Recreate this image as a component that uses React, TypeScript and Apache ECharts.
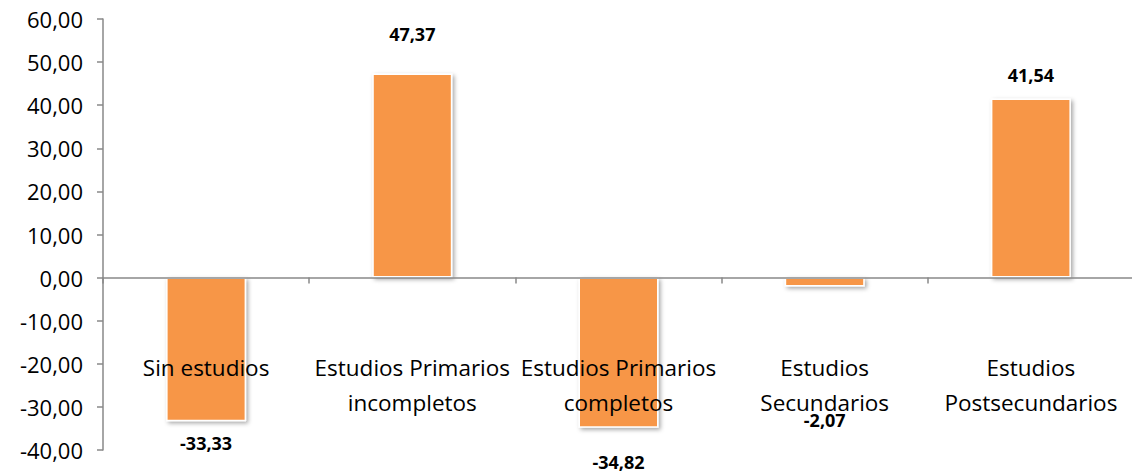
import React, { useEffect, useRef } from "react";
import * as echarts from "echarts";

const categories = [
  "Sin estudios",
  "Estudios Primarios\nincompletos",
  "Estudios Primarios\ncompletos",
  "Estudios\nSecundarios",
  "Estudios\nPostsecundarios",
];
const values = [-33.33, 47.37, -34.82, -2.07, 41.54];
const labelDistances = [13, 30, 25, 124, 15];

const fmt = (v: number) => v.toFixed(2).replace(".", ",");

export default function App() {
  const ref = useRef<HTMLDivElement>(null);
  useEffect(() => {
    if (!ref.current) return;
    const chart = echarts.init(ref.current, null, { renderer: "svg" });
    const font = "'Open Sans', 'Noto Sans', sans-serif";
    chart.setOption({
      animation: false,
      grid: {
        left: 103,
        right: -2,
        top: 19,
        bottom: 24,
        containLabel: false,
        outerBoundsMode: "none",
      },
      xAxis: {
        type: "category",
        data: categories,
        z: 5,
        axisLine: { onZero: true, lineStyle: { color: "#898989", width: 1.5 } },
        axisTick: { show: true, length: 6, lineStyle: { color: "#898989", width: 1.5 } },
        axisLabel: {
          interval: 0,
          margin: -100,
          color: "#000",
          fontSize: 22.5,
          lineHeight: 35,
          fontFamily: font,
        },
      },
      yAxis: {
        type: "value",
        min: -40,
        max: 60,
        interval: 10,
        splitLine: { show: false },
        axisLine: { show: true, lineStyle: { color: "#898989", width: 1.5 } },
        axisTick: { show: true, length: 6, lineStyle: { color: "#898989", width: 1.5 } },
        axisLabel: {
          color: "#000",
          fontSize: 22,
          margin: 20,
          fontFamily: font,
          formatter: (v: number) => fmt(v),
        },
      },
      series: [
        {
          type: "bar",
          barWidth: 80,
          data: values.map((v, i) => ({
            value: v,
            label: {
              position: v >= 0 ? "top" : "bottom",
              distance: labelDistances[i],
            },
          })),
          itemStyle: {
            color: "#F79646",
            borderColor: "#ffffff",
            borderWidth: 1.5,
            shadowColor: "rgba(0,0,0,0.35)",
            shadowBlur: 4,
            shadowOffsetX: 2,
            shadowOffsetY: 2,
          },
          label: {
            show: true,
            color: "#000",
            fontWeight: "bold",
            fontSize: 18,
            fontFamily: font,
            formatter: (p: any) => fmt(p.value),
          },
        },
      ],
    });
    return () => chart.dispose();
  }, []);
  return (
    <div
      ref={ref}
      style={{ position: "fixed", left: 0, top: 0, width: 1132, height: 474, background: "#fff" }}
    />
  );
}
